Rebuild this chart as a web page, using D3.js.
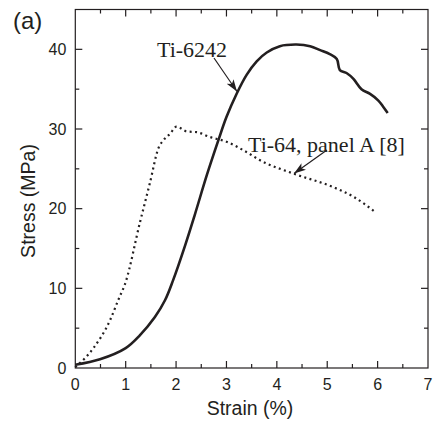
<!DOCTYPE html>
<html>
<head>
<meta charset="utf-8">
<script src="https://cdn.jsdelivr.net/npm/d3@7"></script>
<style>
  body { margin: 0; background: #fff; }
  svg text { fill: #231f20; }
</style>
</head>
<body>
<div id="chart"></div>
<script>
// Ti-6242 curve (strain %, stress MPa)
const ti6242Strain = [0, 0.49, 1.0, 1.28, 1.58, 1.78, 1.94, 2.18, 2.37, 2.61, 2.84, 3.0, 3.2, 3.4, 3.6, 3.8, 4.06, 4.39, 4.66, 4.86, 5.05, 5.19, 5.25, 5.39, 5.52, 5.68, 5.85, 6.01, 6.11, 6.2];
const ti6242Stress = [0.4, 1.1, 2.5, 4.1, 6.4, 8.5, 11.0, 15.4, 19.2, 24.2, 28.6, 31.5, 34.4, 36.8, 38.5, 39.6, 40.4, 40.6, 40.4, 39.9, 39.4, 38.8, 37.4, 37.0, 36.3, 35.0, 34.4, 33.6, 32.8, 32.0];

// Ti-64, panel A [8] curve
const ti64Strain = [0, 0.36, 0.69, 0.85, 1.0, 1.28, 1.48, 1.65, 1.75, 1.88, 2.01, 2.21, 2.41, 2.67, 3.0, 3.4, 3.66, 4.33, 5.12, 5.52, 5.95];
const ti64Stress = [0.1, 2.5, 6.0, 8.5, 10.8, 18.2, 23.2, 27.6, 28.6, 29.4, 30.3, 29.7, 29.6, 29.0, 28.4, 27.1, 26.1, 24.4, 22.7, 21.5, 19.6];

const xTicks = [0, 1, 2, 3, 4, 5, 6, 7];
const yTicks = [0, 10, 20, 30, 40];

const W = 433, H = 422;
const margin = { top: 9.5, right: 5, bottom: 54, left: 75.3 };
const iw = W - margin.left - margin.right;
const ih = H - margin.top - margin.bottom;

const svg = d3.select('#chart').append('svg')
    .attr('width', W)
    .attr('height', H);

const g = svg.append('g')
    .attr('transform', `translate(${margin.left},${margin.top})`);

const x = d3.scaleLinear().domain([0, 7]).range([0, iw]);
const y = d3.scaleLinear().domain([0, 45]).range([ih, 0]);

const font = 'Liberation Sans, Arial, sans-serif';
const serif = 'Liberation Serif, Times New Roman, serif';
const ink = '#231f20';

// frame
g.append('rect')
    .attr('width', iw)
    .attr('height', ih)
    .attr('fill', 'none')
    .attr('stroke', ink)
    .attr('stroke-width', 1.2);

// ticks: major + minor, all pointing inward, mirrored on top/right
const xMinor = d3.range(0.5, 7, 1);
const yMinor = d3.range(5, 45, 10);

function xTick(v, len) {
    g.append('line').attr('x1', x(v)).attr('x2', x(v)).attr('y1', ih).attr('y2', ih - len)
        .attr('stroke', ink).attr('stroke-width', 1.2);
    g.append('line').attr('x1', x(v)).attr('x2', x(v)).attr('y1', 0).attr('y2', len)
        .attr('stroke', ink).attr('stroke-width', 1.2);
}
function yTick(v, len) {
    g.append('line').attr('x1', 0).attr('x2', len).attr('y1', y(v)).attr('y2', y(v))
        .attr('stroke', ink).attr('stroke-width', 1.2);
    g.append('line').attr('x1', iw).attr('x2', iw - len).attr('y1', y(v)).attr('y2', y(v))
        .attr('stroke', ink).attr('stroke-width', 1.2);
}
xTicks.slice(1, -1).forEach(v => xTick(v, 7));
xMinor.forEach(v => xTick(v, 4));
yTicks.slice(1).forEach(v => yTick(v, 7));
yMinor.forEach(v => yTick(v, 4));

// tick labels
g.selectAll('.xl').data(xTicks).enter().append('text')
    .attr('x', d => x(d))
    .attr('y', ih + 22)
    .attr('text-anchor', 'middle')
    .style('font-family', font)
    .style('font-size', '16px')
    .text(d => d);

g.selectAll('.yl').data(yTicks).enter().append('text')
    .attr('x', -9)
    .attr('y', d => y(d) + 5.5)
    .attr('text-anchor', 'end')
    .style('font-family', font)
    .style('font-size', '16px')
    .text(d => d);

// axis titles
svg.append('text')
    .attr('x', 250)
    .attr('y', 415)
    .attr('text-anchor', 'middle')
    .style('font-family', font)
    .style('font-size', '19.5px')
    .text('Strain (%)');

svg.append('text')
    .attr('transform', 'translate(35,201) rotate(-90)')
    .attr('text-anchor', 'middle')
    .style('font-family', font)
    .style('font-size', '19.5px')
    .text('Stress (MPa)');

svg.append('text')
    .attr('x', 13)
    .attr('y', 29)
    .style('font-family', font)
    .style('font-size', '24px')
    .text('(a)');

// curves
const dotted = d3.line()
    .x(d => x(d[0]))
    .y(d => y(d[1]))
    .curve(d3.curveMonotoneX);

const smooth = d3.line()
    .x(d => x(d[0]))
    .y(d => y(d[1]))
    .curve(d3.curveCatmullRom.alpha(0.5));

g.append('path')
    .datum(ti64Strain.map((s, i) => [s, ti64Stress[i]]))
    .attr('d', dotted)
    .attr('fill', 'none')
    .attr('stroke', ink)
    .attr('stroke-width', 2.2)
    .attr('stroke-dasharray', '2 3.4');

g.append('path')
    .datum(ti6242Strain.map((s, i) => [s, ti6242Stress[i]]))
    .attr('d', smooth)
    .attr('fill', 'none')
    .attr('stroke', ink)
    .attr('stroke-width', 2.6)
    .attr('stroke-linejoin', 'round');

// annotations
svg.append('defs').append('marker')
    .attr('id', 'arrow')
    .attr('viewBox', '0 0 12 8')
    .attr('refX', 12)
    .attr('refY', 4)
    .attr('markerWidth', 12)
    .attr('markerHeight', 8)
    .attr('markerUnits', 'userSpaceOnUse')
    .attr('orient', 'auto')
    .append('path')
    .attr('d', 'M0,0 L12,4 L0,8 L3,4 Z')
    .attr('fill', ink);

svg.append('text')
    .attr('x', 157)
    .attr('y', 57)
    .style('font-family', serif)
    .style('font-size', '22px')
    .text('Ti-6242');

svg.append('line')
    .attr('x1', 214).attr('y1', 58)
    .attr('x2', 237).attr('y2', 91.5)
    .attr('stroke', ink)
    .attr('stroke-width', 1.2)
    .attr('marker-end', 'url(#arrow)');

svg.append('text')
    .attr('x', 248)
    .attr('y', 152)
    .style('font-family', serif)
    .style('font-size', '22px')
    .text('Ti-64, panel A [8]');

svg.append('line')
    .attr('x1', 327).attr('y1', 150)
    .attr('x2', 294).attr('y2', 173.5)
    .attr('stroke', ink)
    .attr('stroke-width', 1.2)
    .attr('marker-end', 'url(#arrow)');
</script>
</body>
</html>
